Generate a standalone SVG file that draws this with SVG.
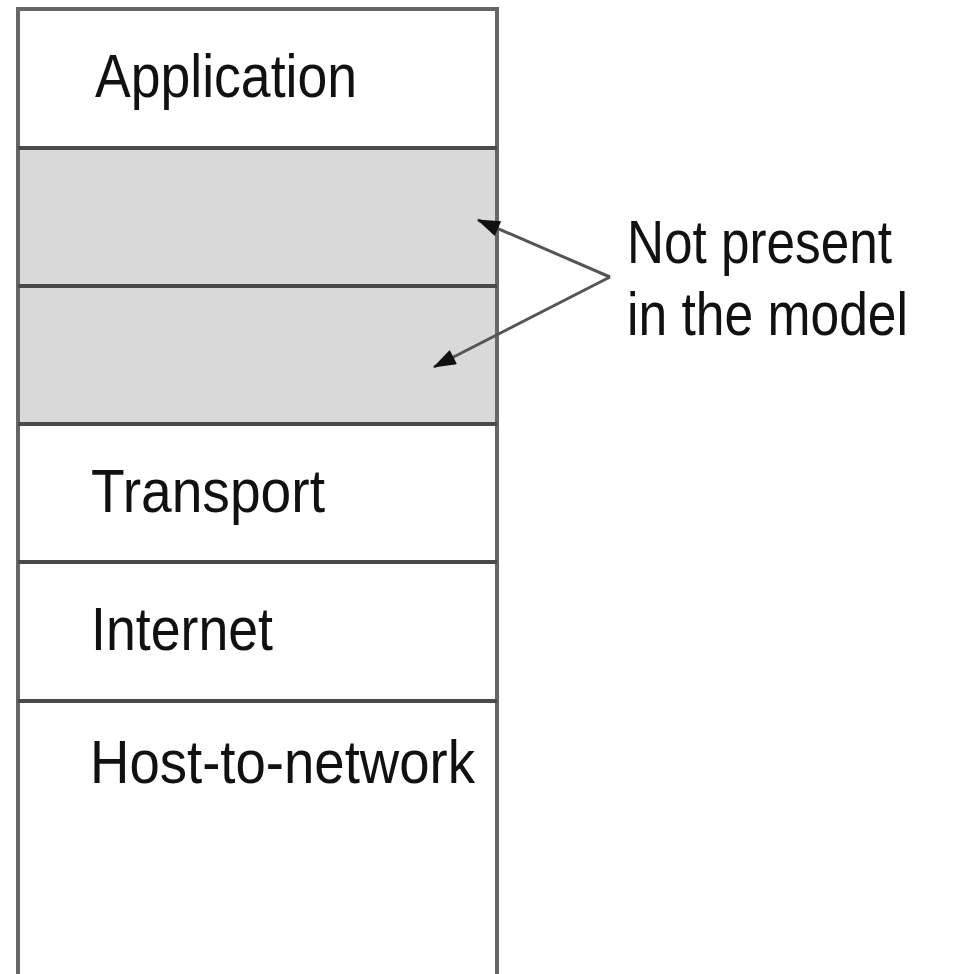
<svg xmlns="http://www.w3.org/2000/svg" width="956" height="974" viewBox="0 0 956 974">
<style>
.t{font-family:"Liberation Sans",Arial,sans-serif;font-size:61px;fill:#111}
.sep{stroke:#4a4a4a;stroke-width:4}
.conn{stroke:#555;stroke-width:3;fill:none}
</style>
<defs>
<marker id="ah" markerWidth="10" markerHeight="8" refX="9" refY="4" orient="auto" markerUnits="userSpaceOnUse" viewBox="0 0 10 8">
<path d="M0,0 L10,4 L0,8 z" fill="#111"/>
</marker>
<marker id="ahb" viewBox="0 0 20 14" markerWidth="24" markerHeight="16" refX="19" refY="7" orient="auto" markerUnits="userSpaceOnUse">
<path d="M0,0 L20,7 L0,14 z" fill="#111"/>
</marker>
</defs>
<rect width="956" height="974" fill="#fff"/>
<g id="shaded">
<rect x="18" y="148" width="479" height="276" fill="#d9d9d9"/>
</g>
<g id="stack">
<path d="M18,974 V9 H497 V974" fill="none" stroke="#666" stroke-width="4"/>
<line class="sep" x1="18" y1="148" x2="497" y2="148"/>
<line class="sep" x1="18" y1="286" x2="497" y2="286"/>
<line class="sep" x1="18" y1="424" x2="497" y2="424"/>
<line class="sep" x1="18" y1="562" x2="497" y2="562"/>
<line class="sep" x1="18" y1="701" x2="497" y2="701"/>
</g>
<g id="application"><text class="t" x="95" y="97" textLength="262" lengthAdjust="spacingAndGlyphs">Application</text></g>
<g id="layer2"></g>
<g id="layer3"></g>
<g id="transport"><text class="t" x="91" y="512" textLength="234" lengthAdjust="spacingAndGlyphs">Transport</text></g>
<g id="internet"><text class="t" x="91" y="650" textLength="182" lengthAdjust="spacingAndGlyphs">Internet</text></g>
<g id="host"><text class="t" x="90" y="783" textLength="385" lengthAdjust="spacingAndGlyphs">Host-to-network</text></g>
<g id="note">
<text class="t" x="627" y="263" textLength="265" lengthAdjust="spacingAndGlyphs">Not present</text>
<text class="t" x="627" y="335" textLength="281" lengthAdjust="spacingAndGlyphs">in the model</text>
</g>
<g id="connectors">
<line class="conn" x1="610" y1="277" x2="478" y2="220" marker-end="url(#ahb)"/>
<line class="conn" x1="610" y1="277" x2="434" y2="367" marker-end="url(#ahb)"/>
</g>
</svg>
